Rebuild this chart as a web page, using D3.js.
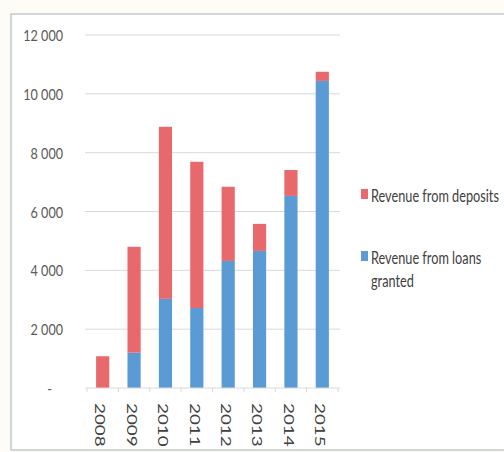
<!DOCTYPE html>
<html>
<head>
<meta charset="utf-8">
<script src="https://cdnjs.cloudflare.com/ajax/libs/d3/7.8.5/d3.min.js"></script>
<style>
  html, body { margin: 0; padding: 0; background: #fff; }
  svg { display: block; }
  text { font-family: Lato, "Open Sans", sans-serif; font-variant-numeric: lining-nums; font-feature-settings: "lnum" 1; }
</style>
</head>
<body>
<svg id="chart" width="504" height="452"></svg>
<script>
// Revenue by year, stacked: loans granted (bottom) and deposits (top)
const years = ["2008", "2009", "2010", "2011", "2012", "2013", "2014", "2015"];
const loansRevenue = [0, 1200, 3030, 2720, 4320, 4660, 6530, 10440];
const depositsRevenue = [1080, 3600, 5850, 4970, 2520, 920, 880, 310];
const yTicks = [0, 2000, 4000, 6000, 8000, 10000, 12000];
const yTickLabels = ["-", "2 000", "4 000", "6 000", "8 000", "10 000", "12 000"];
const seriesNames = ["Revenue from deposits", "Revenue from loans granted"];

const colors = { deposits: "#e8696c", loans: "#5b9bd5" };

const svg = d3.select("#chart");

// outer chart frame
svg.append("rect").attr("x", 0).attr("y", 0).attr("width", 504).attr("height", 452).attr("fill", "#fdfcf6");
svg.append("rect").attr("x", 11).attr("y", 14).attr("width", 520).attr("height", 436)
  .attr("fill", "#ffffff").attr("stroke", "#c3c7cc").attr("stroke-width", 1.5);

const x = d3.scaleBand().domain(years).range([87, 338]).paddingInner(0.58).paddingOuter(0.29);
const y = d3.scaleLinear().domain([0, 12000]).range([388, 35]);

// horizontal gridlines
svg.append("g").selectAll("line").data(yTicks.filter(d => d > 0)).join("line")
  .attr("x1", 85).attr("x2", 340)
  .attr("y1", d => y(d)).attr("y2", d => y(d))
  .attr("stroke", "#d9d9d9").attr("stroke-width", 1);

// y tick labels
svg.append("g").selectAll("text").data(yTicks).join("text")
  .attr("transform", d => `translate(${d === 0 ? 52 : 63},${y(d)}) scale(1.05,1.35)`)
  .attr("text-anchor", "end").attr("dominant-baseline", "central")
  .attr("font-size", 12).attr("fill", "#595959")
  .text((d, i) => yTickLabels[i]);

// stacked bars
const rows = years.map((yr, i) => ({ year: yr, loans: loansRevenue[i], deposits: depositsRevenue[i] }));
const stack = d3.stack().keys(["loans", "deposits"])(rows);

svg.append("g").selectAll("g").data(stack).join("g")
  .attr("fill", s => colors[s.key])
  .selectAll("rect").data(s => s).join("rect")
  .attr("x", d => x(d.data.year))
  .attr("width", x.bandwidth())
  .attr("y", d => y(d[1]))
  .attr("height", d => y(d[0]) - y(d[1]));

// category axis line and tick marks between categories
svg.append("line").attr("x1", 85).attr("x2", 340).attr("y1", y(0)).attr("y2", y(0))
  .attr("stroke", "#d9d9d9").attr("stroke-width", 1);
const step = x.step();
const boundaries = d3.range(years.length + 1).map(i => x.range()[0] + i * step);
svg.append("g").selectAll("line").data(boundaries).join("line")
  .attr("x1", d => d).attr("x2", d => d)
  .attr("y1", y(0)).attr("y2", y(0) + 4)
  .attr("stroke", "#d9d9d9");

// rotated year labels
svg.append("g").selectAll("text").data(years).join("text")
  .attr("transform", d => `translate(${x(d) + x.bandwidth() / 2 - 2},403) rotate(90) scale(1.45,1)`)
  .attr("text-anchor", "start").attr("dominant-baseline", "central")
  .attr("font-size", 13).attr("fill", "#404040")
  .text(d => d);

// legend
const legend = [
  { key: "deposits", lines: [seriesNames[0]], y: 195 },
  { key: "loans", lines: ["Revenue from loans", "granted"], y: 257 }
];
const lg = svg.append("g").selectAll("g").data(legend).join("g");
lg.append("rect").attr("x", 361).attr("y", d => d.y - 6).attr("width", 7).attr("height", 10)
  .attr("fill", d => colors[d.key]);
lg.each(function (d) {
  d3.select(this).selectAll("text").data(d.lines).join("text")
    .attr("transform", (t, i) => `translate(371,${d.y + i * 23}) scale(1.06,1.4)`)
    .attr("dominant-baseline", "central")
    .attr("font-size", 12).attr("fill", "#404040")
    .text(t => t);
});
</script>
</body>
</html>
